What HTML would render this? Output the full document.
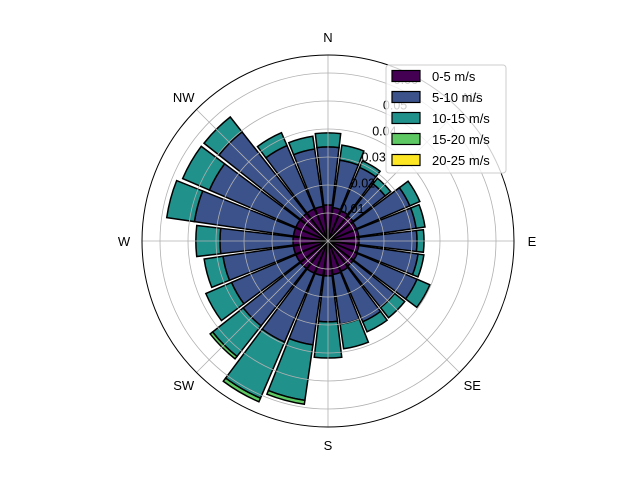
<!DOCTYPE html>
<html><head><meta charset="utf-8"><style>
html,body{margin:0;padding:0;background:#fff;}
svg{display:block;font-family:"Liberation Sans","DejaVu Sans",sans-serif;}
</style></head><body>
<svg id="chart" width="640" height="480" viewBox="0 0 640 480">
<rect width="640" height="480" fill="#fff"/>
<g id="bars"></g>
<g id="grid"></g>
<g id="labels"></g>
<g id="legend"></g>
</svg>
<script>
const directions = [0,15,30,45,60,75,90,105,120,135,150,165,180,195,210,225,240,255,270,285,300,315,330,345];
const speed0to5 = [0.0129,0.0121,0.0118,0.0114,0.0111,0.0111,0.0111,0.0111,0.0114,0.0114,0.0118,0.0121,0.0125,0.0125,0.0125,0.0125,0.0125,0.0125,0.0125,0.0125,0.0125,0.0125,0.0125,0.0125];
const speed5to10 = [0.0207,0.0171,0.0168,0.0146,0.0207,0.0207,0.0207,0.0214,0.0232,0.0189,0.0196,0.0179,0.0164,0.0250,0.0268,0.0261,0.0250,0.0254,0.0261,0.0357,0.0336,0.0371,0.0246,0.0207];
const speed10to15 = [0.0050,0.0054,0.0025,0.0025,0.0039,0.0032,0.0025,0.0021,0.0050,0.0046,0.0039,0.0089,0.0129,0.0200,0.0218,0.0139,0.0100,0.0068,0.0086,0.0100,0.0104,0.0068,0.0050,0.0046];
const speed15to20 = [0,0,0,0,0,0,0,0,0,0,0,0,0,0.0014,0.0014,0.0011,0,0,0,0,0,0,0,0];
const speed20to25 = [0,0,0,0,0,0,0,0,0,0,0,0,0,0,0,0,0,0,0,0,0,0,0,0];
const seriesLabels = ["0-5 m/s","5-10 m/s","10-15 m/s","15-20 m/s","20-25 m/s"];
const ringValues = [0.01,0.02,0.03,0.04,0.05,0.06];
const ringLabels = ["0.01","0.02","0.03","0.04","0.05","0.06"];
const compassLabels = ["N","NE","E","SE","S","SW","W","NW"];

const NS="http://www.w3.org/2000/svg";
const cx=328, cy=241, R=186, K=2800;
const colors=["#440154","#3b528b","#21918c","#5ec962","#fde725"];
const series=[speed0to5,speed5to10,speed10to15,speed15to20,speed20to25];
function rScale(v){return v*K;}
function pt(deg,r){const a=deg*Math.PI/180;return [cx+r*Math.sin(a),cy-r*Math.cos(a)];}
function mk(tag,attrs,parent){const e=document.createElementNS(NS,tag);for(const k in attrs)e.setAttribute(k,attrs[k]);parent.appendChild(e);return e;}
function wedge(a,w,r0,r1){
  const a0=a-w/2,a1=a+w/2;
  const p1=pt(a0,r0),p2=pt(a0,r1),p3=pt(a1,r1),p4=pt(a1,r0);
  let d=`M${p1[0]},${p1[1]} L${p2[0]},${p2[1]} A${r1},${r1} 0 0 1 ${p3[0]},${p3[1]} L${p4[0]},${p4[1]}`;
  if(r0>0) d+=` A${r0},${r0} 0 0 0 ${p1[0]},${p1[1]}`;
  return d+"Z";
}
const bars=document.getElementById('bars');
directions.forEach((dir,i)=>{
  let base=0;
  series.forEach((s,j)=>{
    const v=s[i]; if(v<=0) return;
    const p=mk('path',{d:wedge(dir,13.5,rScale(base),rScale(base+v)),fill:colors[j],stroke:'#000','stroke-width':1.5,'stroke-linejoin':'miter'},bars);
    
    
    base+=v;
  });
});
const grid=document.getElementById('grid');
ringValues.forEach(v=>{
  const c=mk('circle',{cx:cx,cy:cy,r:rScale(v),fill:'none',stroke:'#b0b0b0','stroke-width':0.8},grid);
  
  
});
for(let k=0;k<8;k++){
  const p=pt(k*45,R);
  const l=mk('line',{x1:cx,y1:cy,x2:p[0],y2:p[1],stroke:'#b0b0b0','stroke-width':0.8},grid);
  
  
}
const outer=mk('circle',{cx:cx,cy:cy,r:R,fill:'none',stroke:'#000','stroke-width':1},grid);


const labels=document.getElementById('labels');
ringValues.forEach((v,i)=>{
  const p=pt(22.5,rScale(v)+14);
  const t=mk('text',{x:p[0]-4,y:p[1]+11,'font-size':12.5,fill:'#000'},labels);
  t.textContent=ringLabels[i];
  
  
});
compassLabels.forEach((s,k)=>{
  const p=pt(k*45,R+18);
  const t=mk('text',{x:p[0],y:p[1]+5,'font-size':13,'text-anchor':'middle',fill:'#000'},labels);
  t.textContent=s;
  
  
});
const lg=document.getElementById('legend');
const box=mk('rect',{x:386,y:65,width:120,height:108,rx:3,fill:'#fff','fill-opacity':0.8,stroke:'#ccc','stroke-width':1},lg);


seriesLabels.forEach((s,i)=>{
  const y=76.5+i*21;
  const r=mk('rect',{x:392,y:y-6,width:28,height:11,fill:colors[i],stroke:'#000','stroke-width':1.2},lg);
  
  
  const t=mk('text',{x:432,y:y+4.5,'font-size':13,fill:'#000'},lg);
  t.textContent=s;
  
  
});
</script>
</body></html>
